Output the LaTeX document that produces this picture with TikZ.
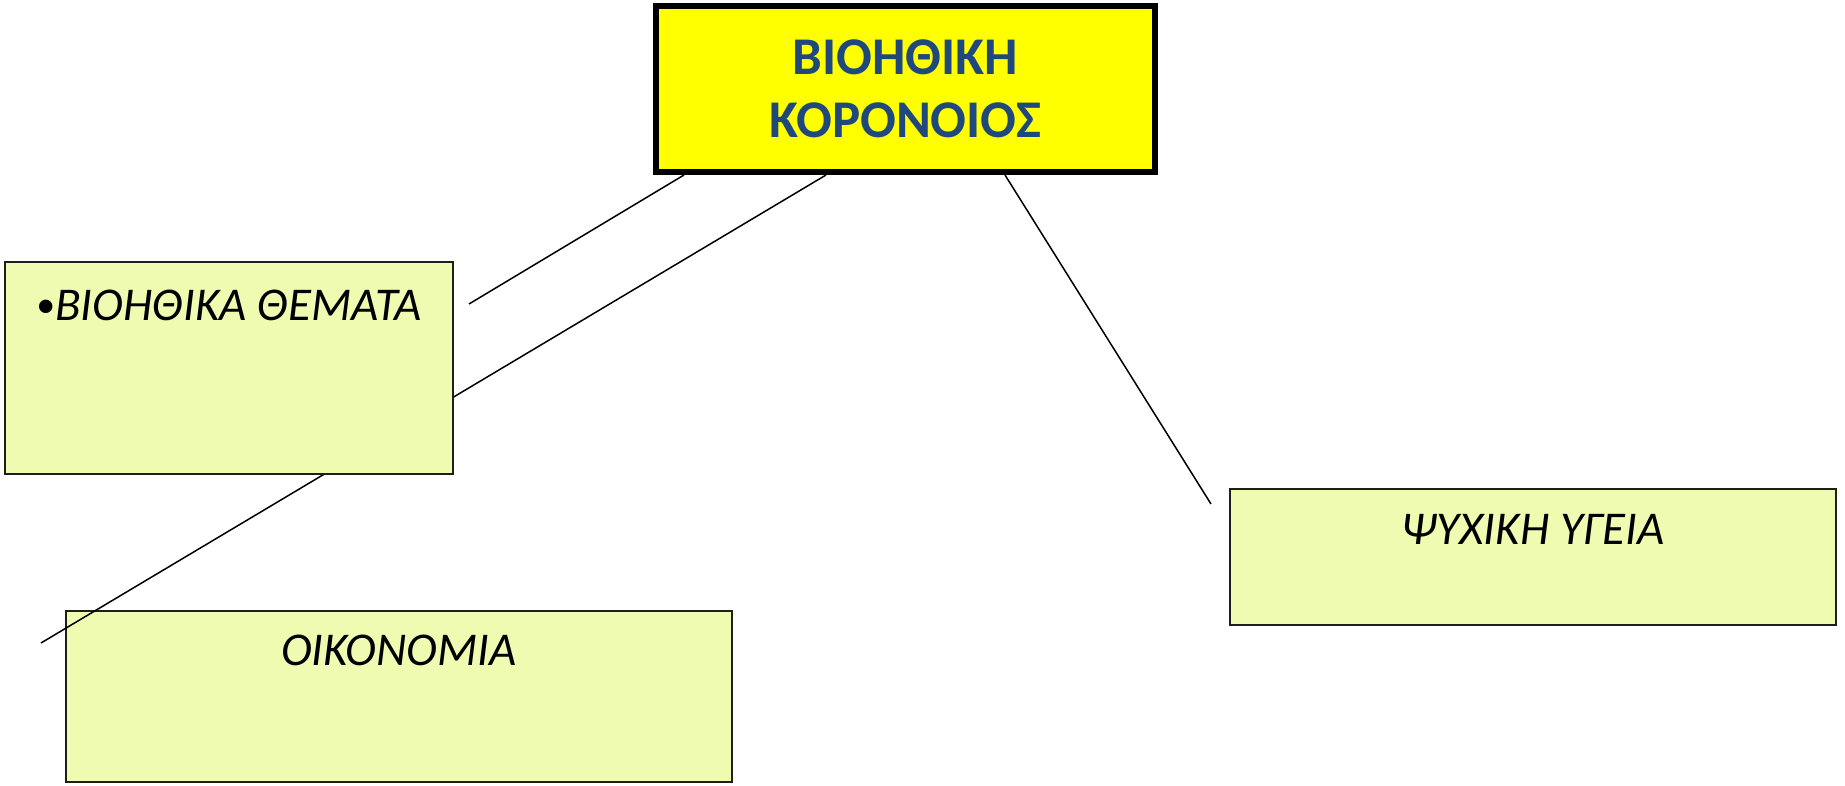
\documentclass[tikz,border=0pt]{standalone}
\usepackage{fontspec}
\setmainfont{Carlito}
\definecolor{boxfill}{RGB}{240,251,178}
\definecolor{boxline}{RGB}{30,30,30}
\definecolor{titleblue}{RGB}{31,73,125}
\definecolor{titlefill}{RGB}{255,255,0}
\tikzset{
  topicbox/.style={draw=boxline, line width=2pt, fill=boxfill, rectangle, inner sep=0pt},
  titlebox/.style={draw=black, line width=6pt, fill=titlefill, rectangle, inner sep=0pt,
    align=center, text=titleblue, font=\fontsize{53}{63}\selectfont\bfseries},
  topictext/.style={anchor=base, inner sep=0pt, font=\fontsize{47}{55}\selectfont\itshape, text=black},
  link/.style={draw=black, line width=1.5pt}
}
\begin{document}
\begin{tikzpicture}[x=1pt,y=-1pt]
\useasboundingbox (0,0) rectangle (1845,786);
% bottom-left box
\node[topicbox, minimum width=666pt, minimum height=171pt] (econ) at (399,696.5) {};
\node[topictext] (econt) at (399,665) {ΟΙΚΟΝΟΜΙΑ};
% title box
\node[titlebox, minimum width=499pt, minimum height=166pt] (title) at (905.5,89) {ΒΙΟΗΘΙΚΗ\\ΚΟΡΟΝΟΙΟΣ};
% long connector passing under the first box
\coordinate (e2) at (41,643);
\draw[link] (e2) -- (826,0 |- title.south);
% first box
\node[topicbox, minimum width=448pt, minimum height=212pt] (bio) at (229,368) {};
\node[topictext] (biot) at (229,321) {{\upshape\fontsize{38}{44}\selectfont\raisebox{3pt}{•}}ΒΙΟΗΘΙΚΑ ΘΕΜΑΤΑ};
% right box
\node[topicbox, minimum width=606pt, minimum height=136pt] (psy) at (1533,557) {};
\node[topictext] (psyt) at (1533,544) {ΨΥΧΙΚΉ ΥΓΕΙΑ};
% other connectors
\coordinate (e1) at (469,304);
\coordinate (e3) at (1211,504);
\draw[link] (e1) -- (684,0 |- title.south);
\draw[link] (1005,0 |- title.south) -- (e3);
% redraw title box on top
\node[titlebox, minimum width=499pt, minimum height=166pt] (title2) at (905.5,89) {ΒΙΟΗΘΙΚΗ\\ΚΟΡΟΝΟΙΟΣ};
\end{tikzpicture}
\end{document}
